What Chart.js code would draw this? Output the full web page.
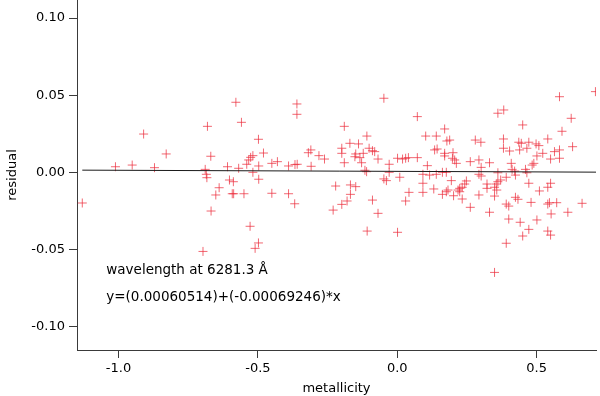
<!DOCTYPE html>
<html>
<head>
<meta charset="utf-8">
<script src="https://cdn.jsdelivr.net/npm/chart.js@4"></script>
<style>
  html, body { margin: 0; padding: 0; background: #fff; }
  #wrap { width: 600px; height: 396px; }
</style>
</head>
<body>
<div id="wrap"><canvas id="c" width="600" height="396"></canvas></div>
<script>
// ---- data ----
const metallicity = [
  -1.130,-1.011,-0.951,-0.910,-0.871,-0.829,-0.681,-0.689,-0.685,-0.683,
  -0.669,-0.668,-0.697,-0.639,-0.651,-0.609,-0.602,-0.588,-0.592,-0.587,
  -0.550,-0.579,-0.559,-0.569,-0.540,-0.533,-0.526,-0.518,-0.518,-0.498,
  -0.497,-0.497,-0.480,-0.528,-0.498,-0.510,-0.450,-0.430,-0.450,-0.390,
  -0.390,-0.368,-0.367,-0.359,-0.360,-0.360,-0.309,-0.319,-0.310,-0.281,
  -0.261,-0.048, 0.072,-0.190,-0.109,-0.170,-0.139,-0.199,-0.199,-0.149,
  -0.152,-0.134,-0.122,-0.101,-0.089,-0.081,-0.069,-0.190,-0.128,-0.116,
  -0.110,-0.029,-0.029, 0.001, 0.019, 0.030, 0.040, 0.072, 0.108, 0.102,
   0.140, 0.170, 0.178, 0.134, 0.143, 0.170, 0.170,-0.221,-0.168,-0.149,
  -0.168,-0.180,-0.199,-0.230,-0.089,-0.069,-0.108, 0.001,-0.048,-0.039,
   0.009, 0.030, 0.042, 0.092, 0.092, 0.092, 0.116, 0.140, 0.131, 0.162,
   0.176, 0.162, 0.176, 0.711, 0.582, 0.361, 0.382, 0.624, 0.450, 0.591,
   0.188, 0.280, 0.300, 0.381, 0.540, 0.436, 0.445, 0.472, 0.498, 0.508,
   0.629, 0.381, 0.403, 0.439, 0.465, 0.522, 0.564, 0.582, 0.501, 0.550,
   0.582, 0.490, 0.484, 0.200, 0.198, 0.206, 0.212, 0.262, 0.293, 0.331,
   0.301, 0.409, 0.412, 0.421, 0.460, 0.465, 0.361, 0.293, 0.301, 0.424,
   0.391, 0.371, 0.194, 0.248, 0.242, 0.322, 0.355, 0.361, 0.322, 0.349,
   0.357, 0.472, 0.550, 0.540, 0.510, 0.224, 0.233, 0.224, 0.218, 0.182,
   0.202, 0.233, 0.293, 0.349, 0.424, 0.433, 0.391, 0.400, 0.262, 0.480,
   0.540, 0.546, 0.572, 0.663, 0.331, 0.552, 0.612, 0.400, 0.441, 0.501,
   0.472, 0.450, 0.540, 0.550, 0.391, 0.349
];
const residual = [
  -0.0199, 0.0036, 0.0047, 0.0248, 0.0030, 0.0119, 0.0298, 0.0019,-0.0013,-0.0035,
   0.0104,-0.0251,-0.0513,-0.0100,-0.0147, 0.0036,-0.0050,-0.0061,-0.0139,-0.0139,
  -0.0139, 0.0454, 0.0324, 0.0026, 0.0052, 0.0080, 0.0097, 0.0108, 0.0000, 0.0214,
   0.0041,-0.0045, 0.0125,-0.0350,-0.0458,-0.0493, 0.0058, 0.0069,-0.0136, 0.0041,
  -0.0139,-0.0204, 0.0050, 0.0052, 0.0443, 0.0376, 0.0039, 0.0127, 0.0145, 0.0108,
   0.0086, 0.0480, 0.0361, 0.0298, 0.0235, 0.0188, 0.0184, 0.0156, 0.0123, 0.0119,
   0.0101, 0.0095, 0.0123, 0.0156, 0.0140, 0.0134, 0.0086, 0.0062, 0.0062, 0.0013,
   0.0004, 0.0052, 0.0000, 0.0091, 0.0086, 0.0091, 0.0095, 0.0095, 0.0043, 0.0235,
   0.0235, 0.0281, 0.0203, 0.0145, 0.0151, 0.0123, 0.0106,-0.0089,-0.0082,-0.0093,
  -0.0143,-0.0186,-0.0208,-0.0245,-0.0180,-0.0266,-0.0381,-0.0389,-0.0043,-0.0054,
  -0.0032,-0.0186,-0.0130,-0.0071,-0.0130,-0.0013,-0.0018,-0.0013,-0.0108,-0.0143,
  -0.0126, 0.0000, 0.0000, 0.0523, 0.0490, 0.0383, 0.0404, 0.0350, 0.0307, 0.0266,
   0.0209, 0.0209, 0.0195, 0.0216, 0.0216, 0.0195, 0.0188, 0.0195, 0.0184, 0.0173,
   0.0166, 0.0156, 0.0138, 0.0145, 0.0156, 0.0123, 0.0134, 0.0145, 0.0106, 0.0086,
   0.0091, 0.0058, 0.0047, 0.0127, 0.0091, 0.0080, 0.0058, 0.0069, 0.0080, 0.0062,
   0.0032, 0.0058, 0.0019, 0.0008, 0.0019,-0.0003,-0.0003,-0.0013,-0.0024,-0.0018,
  -0.0032,-0.0050,-0.0054,-0.0056,-0.0076,-0.0076,-0.0076,-0.0061,-0.0104,-0.0097,
  -0.0115,-0.0071,-0.0071,-0.0097,-0.0121,-0.0104,-0.0097,-0.0126,-0.0115,-0.0115,
  -0.0152,-0.0173,-0.0147,-0.0154,-0.0162,-0.0175,-0.0206,-0.0219,-0.0227,-0.0195,
  -0.0206,-0.0197,-0.0197,-0.0201,-0.0259,-0.0270,-0.0259,-0.0303,-0.0324,-0.0309,
  -0.0370,-0.0413,-0.0381,-0.0407,-0.0460,-0.0649
];
// fitted line end points (consistent with the printed fit)
const fitX = [-1.13, 0.713];
const fitY = [0.0014, 0.0001];
const xTicks = [-1.0, -0.5, 0.0, 0.5];
const yTicks = [-0.10, -0.05, 0.00, 0.05, 0.10];
const annotations = ['wavelength at 6281.3 \u00C5', 'y=(0.00060514)+(-0.00069246)*x'];
const xTitle = 'metallicity';
const yTitle = 'residual';

// ---- chart ----
const FONT = 'DejaVu Sans';
const AXIS = '#3a3a3a';
const points = metallicity.map((m, i) => ({ x: m, y: residual[i] }));
const fitPts = fitX.map((v, i) => ({ x: v, y: fitY[i] }));

const annotPlugin = {
  id: 'annot',
  afterDatasetsDraw(chart) {
    const ctx = chart.ctx;
    const xs = chart.scales.x, ys = chart.scales.y;
    ctx.save();
    ctx.fillStyle = '#000';
    ctx.font = '13.5px "' + FONT + '"';
    ctx.textAlign = 'left';
    ctx.textBaseline = 'middle';
    const x0 = xs.getPixelForValue(-1.044);
    ctx.fillText(annotations[0], x0, ys.getPixelForValue(-0.0634));
    ctx.fillText(annotations[1], x0, ys.getPixelForValue(-0.0809));
    ctx.restore();
  }
};

new Chart(document.getElementById('c'), {
  type: 'scatter',
  data: {
    datasets: [
      {
        type: 'scatter',
        data: points,
        pointStyle: 'cross',
        pointRadius: 4.5,
        pointHoverRadius: 4.5,
        pointBorderWidth: 1,
        borderColor: 'rgba(235, 45, 60, 0.72)',
        backgroundColor: 'rgba(235, 45, 60, 0.72)',
        order: 2
      },
      {
        type: 'line',
        data: fitPts,
        borderColor: '#1a1a1a',
        borderWidth: 1,
        pointRadius: 0,
        fill: false,
        order: 1
      }
    ]
  },
  options: {
    responsive: false,
    animation: false,
    devicePixelRatio: 1,
    layout: { autoPadding: false, padding: { left: 0, right: 4, top: 0, bottom: 0 } },
    plugins: { legend: { display: false }, tooltip: { enabled: false } },
    scales: {
      x: {
        type: 'linear',
        min: -1.149, max: 0.713,
        afterBuildTicks(s) { s.ticks = xTicks.map(v => ({ value: v })); },
        afterFit(s) { s.height = 46; s.paddingLeft = 0; s.paddingRight = 0; },
        grid: { drawOnChartArea: false, drawTicks: true, tickLength: 8, color: AXIS, lineWidth: 1 },
        border: { display: true, color: AXIS, width: 1 },
        ticks: {
          padding: 3,
          color: '#000',
          font: { family: FONT, size: 13 },
          maxRotation: 0,
          callback: v => Number(v).toFixed(1)
        },
        title: { display: true, text: xTitle, color: '#000', font: { family: FONT, size: 13 }, padding: { top: 0, bottom: 0 } }
      },
      y: {
        type: 'linear',
        min: -0.1152, max: 0.1117,
        afterBuildTicks(s) { s.ticks = yTicks.map(v => ({ value: v })); },
        afterFit(s) { s.width = 77; s.paddingTop = 0; s.paddingBottom = 0; },
        grid: { drawOnChartArea: false, drawTicks: true, tickLength: 8, color: AXIS, lineWidth: 1 },
        border: { display: true, color: AXIS, width: 1 },
        ticks: {
          padding: 4,
          color: '#000',
          font: { family: FONT, size: 13 },
          callback: v => Number(v).toFixed(2)
        },
        title: { display: true, text: yTitle, color: '#000', font: { family: FONT, size: 13 }, padding: { top: 5, bottom: 0 } }
      }
    }
  },
  plugins: [annotPlugin]
});
</script>
</body>
</html>
